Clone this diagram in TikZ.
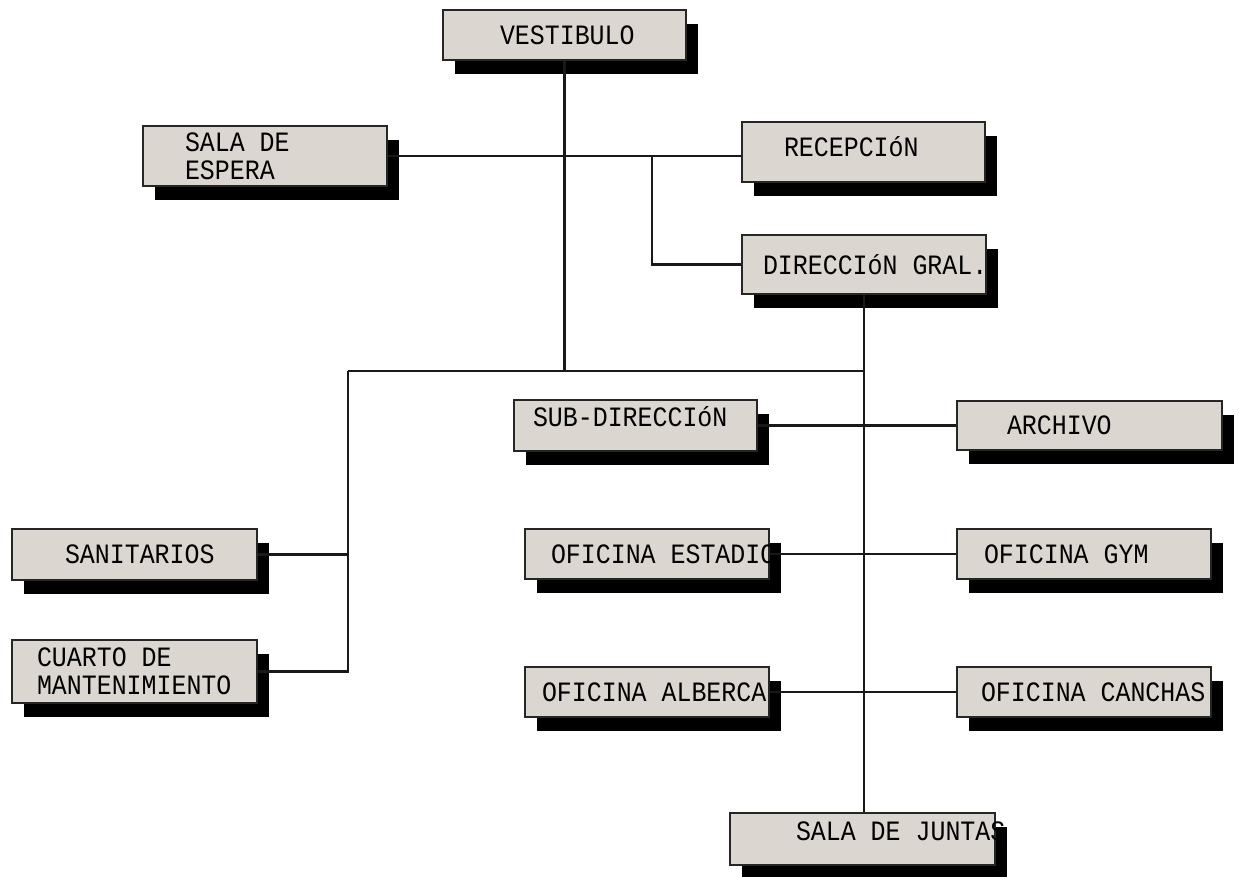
\documentclass[tikz,border=0pt]{standalone}
\usepackage{fontspec}
\usepackage{xcolor}
\usepackage{tikz}
\usetikzlibrary{shadows}
\newfontfamily\roomfont[FakeStretch=0.89]{Liberation Mono}
\definecolor{boxgray}{HTML}{DCD6D0}

\begin{document}
\begin{tikzpicture}[x=1pt, y=-1pt,
  room/.style n args={3}{draw=black!85, line width=1.2pt, fill=boxgray,
    drop shadow={shadow xshift=12pt, shadow yshift=-14pt, fill=black, opacity=1},
    minimum width=#1pt, minimum height=#2pt, inner ysep=0pt, inner xsep=#3pt,
    text width=#1pt-2*#3pt, align=left,
    font=\roomfont\fontsize{28}{28}\selectfont,
    execute at begin node={\hyphenpenalty=10000\exhyphenpenalty=10000
      \spaceskip=0.534em\relax\xspaceskip=0.534em\relax}},
  link/.style={line width=2.2pt, draw=black!90}]
  \useasboundingbox (0,0) rectangle (1239,876);

  % rooms
  \node[room={243}{50}{57}] (vest) at (564.5,35) {VESTIBULO};
  \node[room={244}{60}{42}] (espera) at (265,156) {SALA~DE\\ESPERA};
  \node[room={243}{60}{42}, text depth=11pt] (recep) at (863.5,152) {RECEPCIóN};
  \node[room={244}{59}{21}] (direc) at (864,264.5) {DIRECCIóN~GRAL.};
  \node[room={243}{51}{19}, text depth=18pt] (subdir) at (635.5,425.5) {SUB-DIRECCIóN};
  \node[room={265}{49}{50}] (archivo) at (1089.5,425.5) {ARCHIVO};
  \node[room={245}{51}{53}] (sanit) at (134.5,554.5) {SANITARIOS};
  \node[room={245}{63}{25}] (cuarto) at (134.5,671.5) {CUARTO~DE\\MANTENIMIENTO};
  \node[room={244}{50}{26}] (estadio) at (647,554) {OFICINA~ESTADIO};
  \node[room={254}{50}{27}] (gym) at (1084,554) {OFICINA~GYM};
  \node[room={244}{50}{17}] (alberca) at (647,692) {OFICINA~ALBERCA};
  \node[room={254}{50}{24}] (canchas) at (1084,692) {OFICINA~CANCHAS};
  \node[room={265}{52}{66}, text depth=16pt] (juntas) at (862.5,839) {SALA~DE~JUNTAS};

  % connectors
  \coordinate (split) at (348,371);
  \coordinate (fork) at (652,156);
  \draw[link] (vest.south) -- (vest.south |- split);
  \draw[link] (split) -- (split -| direc.south);
  \draw[link] (split) |- (cuarto.east);
  \draw[link] (sanit.east) -- (sanit.east -| split);
  \draw[link] (espera.east) -- (espera.east -| recep.west);
  \draw[link] (fork) |- (direc.west);
  \draw[link] (direc.south) -- (direc.south |- juntas.north);
  \draw[link] (subdir.east) -- (subdir.east -| archivo.west);
  \draw[link] (estadio) -- (gym);
  \draw[link] (alberca) -- (canchas);
\end{tikzpicture}
\end{document}
